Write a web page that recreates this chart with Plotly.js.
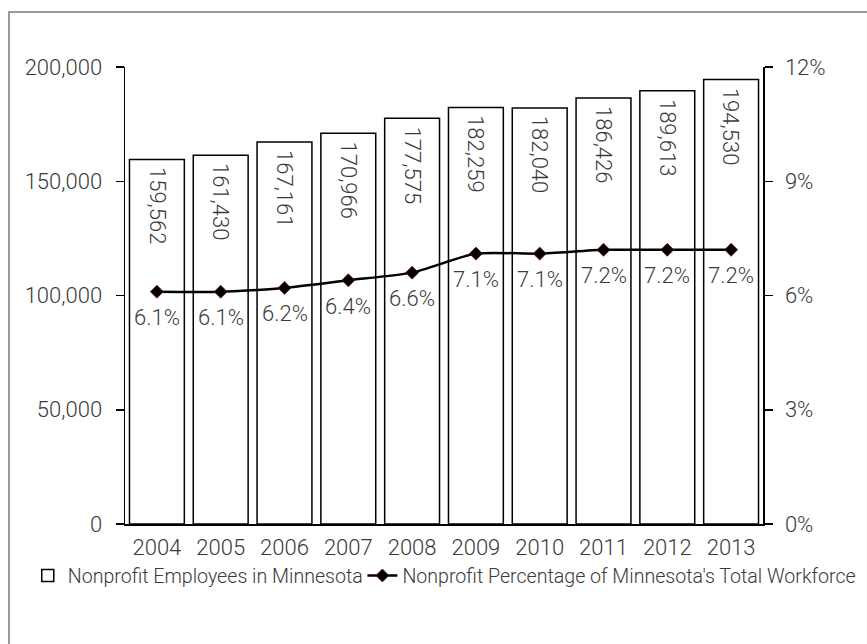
<!DOCTYPE html>
<html><head><meta charset="utf-8">
<script src="https://cdn.plot.ly/plotly-3.0.1.min.js"></script>
<style>
html,body{margin:0;padding:0;background:#fff;overflow:hidden}
#wrap{position:absolute;left:0;top:0;width:867px;height:644px}
#frame{position:absolute;left:8px;top:11px;width:900px;height:700px;border-left:2px solid #9a9a9a;border-top:2px solid #9a9a9a;pointer-events:none}
#chart{position:absolute;left:0;top:0;width:867px;height:644px}
</style></head>
<body><div id="wrap"><div id="chart"></div><div id="frame"></div></div>
<script>
const years = ['2004','2005','2006','2007','2008','2009','2010','2011','2012','2013'];
const employees = [159562,161430,167161,170966,177575,182259,182040,186426,189613,194530];
const percentOfWorkforce = [6.1,6.1,6.2,6.4,6.6,7.1,7.1,7.2,7.2,7.2];
const leftTicks = [0,50000,100000,150000,200000];
const rightTicks = [0,3,6,9,12];

const FAM = 'Roboto, "Noto Sans", sans-serif';
const mkFont = (s)=>({family:FAM, size:s, color:'#3a3a3a', weight:300});

const bars = {
  type:'bar', x:years, y:employees, name:'Nonprofit Employees in Minnesota',
  marker:{color:'#ffffff', line:{color:'#000000', width:1.5}},
  hoverinfo:'skip', legend:'legend'
};
const line = {
  type:'scatter', mode:'lines+markers', x:years, y:percentOfWorkforce, yaxis:'y2',
  name:"Nonprofit Percentage of Minnesota's Total Workforce",
  line:{color:'#000000', width:2.5, shape:'spline', smoothing:0.6},
  marker:{symbol:'diamond', size:10, color:'#000000', line:{color:'#7a1010', width:0.8}},
  cliponaxis:false, legend:'legend2'
};

const barLabels = years.map((yr,i)=>({
  x:i, y:employees[i], xref:'x', yref:'y', text:employees[i].toLocaleString('en-US'),
  textangle:90, showarrow:false, xanchor:'center', yanchor:'top', yshift:-6, font:mkFont(22)
}));
const pctLabels = years.map((yr,i)=>({
  x:i, y:percentOfWorkforce[i], xref:'x', yref:'y2', text:percentOfWorkforce[i].toFixed(1)+'%',
  showarrow:false, xanchor:'center', yanchor:'middle', yshift:-26, font:mkFont(22)
}));

const legendBase = {orientation:'h', xref:'container', yref:'container', xanchor:'left', y:0.106, yanchor:'middle',
    font:mkFont(19.6), itemwidth:30, bgcolor:'rgba(0,0,0,0)'};

const innerTickAxis = (rng, vals, side)=>({range:rng, tickvals:vals, overlaying:'y', side:side, showline:false,
  ticks:'inside', ticklen:5, tickcolor:'#000', tickwidth:1.5, showticklabels:false, showgrid:false, zeroline:false});

const layout = {
  width:867, height:644,
  margin:{l:125, r:104, t:67, b:120, autoexpand:false},
  paper_bgcolor:'rgba(0,0,0,0)', plot_bgcolor:'rgba(0,0,0,0)',
  font:mkFont(22),
  bargap:0.14,
  showlegend:true,
  annotations: barLabels.concat(pctLabels),
  legend:Object.assign({}, legendBase, {x:0.032}),
  legend2:Object.assign({}, legendBase, {x:0.418}),
  xaxis:{type:'category', range:[-0.5, years.length-0.5], showline:true, linecolor:'#000', linewidth:1.5, ticks:'', showgrid:false,
    tickfont:mkFont(22), zeroline:false, ticklabelstandoff:3},
  yaxis:{range:[0,200000], tickvals:leftTicks, ticktext:leftTicks.map(v=>v.toLocaleString('en-US')),
    showline:true, linecolor:'#000', linewidth:1.5,
    ticks:'outside', ticklen:8, tickcolor:'#000', tickwidth:1.5, showgrid:false, zeroline:false, tickfont:mkFont(22),
    ticklabelstandoff:9},
  yaxis2:{range:[0,12], tickvals:rightTicks, ticktext:rightTicks.map(v=>v+'%'), overlaying:'y', side:'right', showline:true,
    linecolor:'#000', linewidth:1.5, ticks:'outside', ticklen:8, tickcolor:'#000', tickwidth:1.5,
    showgrid:false, zeroline:false, tickfont:mkFont(22), ticklabelstandoff:8},
  yaxis3: innerTickAxis([0,200000], leftTicks.slice(1,4), 'left'),
  yaxis4: innerTickAxis([0,12], rightTicks.slice(1), 'right')
};
Plotly.newPlot('chart',[bars,line],layout,{displayModeBar:false, staticPlot:true});
</script></body></html>
